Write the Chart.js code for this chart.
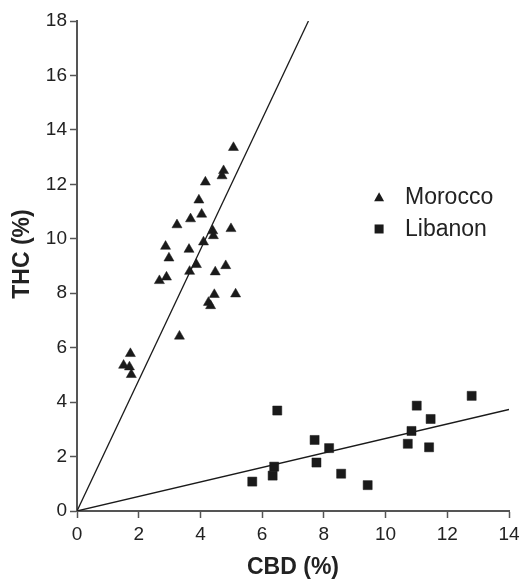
<!DOCTYPE html>
<html>
<head>
<meta charset="utf-8">
<title>THC vs CBD</title>
<script src="https://cdn.jsdelivr.net/npm/chart.js@4.4.1/dist/chart.umd.min.js"></script>
<style>
  html, body { margin: 0; padding: 0; background: #fff; }
  #wrap { width: 520px; height: 581px; }
</style>
</head>
<body>
<div id="wrap"><canvas id="chart" width="520" height="581"></canvas></div>
<script>
// --- data: CBD (%) on x, THC (%) on y ---
const moroccoCBD = [5.07, 4.75, 4.70, 4.16, 3.95, 4.04, 3.68, 3.24, 4.40, 4.42, 4.99, 4.10, 2.87, 3.63, 2.98,
                    3.87, 3.65, 4.82, 4.48, 2.90, 2.67, 4.45, 5.14, 4.26, 4.33, 3.32, 1.73, 1.51, 1.70, 1.76];
const moroccoTHC = [13.35, 12.50, 12.31, 12.08, 11.42, 10.90, 10.73, 10.51, 10.29, 10.11, 10.37, 9.88, 9.72, 9.61, 9.29,
                    9.05, 8.80, 9.01, 8.78, 8.59, 8.46, 7.95, 7.97, 7.66, 7.54, 6.42, 5.78, 5.35, 5.29, 5.01];
const libanonCBD = [6.49, 5.68, 6.34, 6.39, 7.70, 7.76, 8.17, 8.56, 9.42, 10.72, 10.84, 11.01, 11.46, 11.41, 12.79];
const libanonTHC = [3.69, 1.08, 1.30, 1.63, 2.61, 1.78, 2.31, 1.37, 0.95, 2.47, 2.94, 3.87, 3.38, 2.34, 4.23];

// regression lines through the origin
const moroccoFitX = [0, 7.5];
const moroccoFitY = [0, 18];
const libanonFitX = [0, 14];
const libanonFitY = [0, 3.73];

const seriesNames = ["Morocco", "Libanon"];
const xTitle = "CBD (%)";
const yTitle = "THC (%)";
const xTicks = [0, 2, 4, 6, 8, 10, 12, 14];
const yTicks = [0, 2, 4, 6, 8, 10, 12, 14, 16, 18];

const toPoints = (xs, ys) => xs.map((x, i) => ({ x: x, y: ys[i] }));

const INK = "#1a1a1a";
const TEXT = "#222";
const AXIS = "#555";
const FONT = "'Liberation Sans', Arial, Helvetica, sans-serif";

// legend inside the plot area plus the rotated y title
const annotations = {
    id: "annotations",
    afterDatasetsDraw(chart) {
        const { ctx, scales } = chart;
        const mx = scales.x.getPixelForValue(9.79);
        const tx = scales.x.getPixelForValue(10.63);
        const rows = [scales.y.getPixelForValue(11.53), scales.y.getPixelForValue(10.36)];
        ctx.save();
        ctx.fillStyle = INK;
        // triangle marker
        ctx.beginPath();
        ctx.moveTo(mx, rows[0] - 5);
        ctx.lineTo(mx + 5, rows[0] + 4);
        ctx.lineTo(mx - 5, rows[0] + 4);
        ctx.closePath();
        ctx.fill();
        // square marker
        ctx.fillRect(mx - 4.5, rows[1] - 4.5, 9, 9);

        ctx.fillStyle = TEXT;
        ctx.font = "23px " + FONT;
        ctx.textBaseline = "middle";
        ctx.textAlign = "left";
        ctx.fillText(seriesNames[0], tx, rows[0] + 1);
        ctx.fillText(seriesNames[1], tx, rows[1] + 1);

        // y axis title
        ctx.translate(22, 254);
        ctx.rotate(-Math.PI / 2);
        ctx.textAlign = "center";
        ctx.font = "bold 23px " + FONT;
        ctx.fillText(yTitle, 0, 1);
        ctx.restore();
    }
};

new Chart(document.getElementById("chart"), {
    type: "scatter",
    data: {
        datasets: [
            {
                label: seriesNames[0],
                data: toPoints(moroccoCBD, moroccoTHC),
                pointStyle: "triangle",
                pointRadius: 5.8,
                backgroundColor: INK,
                borderColor: INK,
                borderWidth: 0.5
            },
            {
                label: seriesNames[1],
                data: toPoints(libanonCBD, libanonTHC),
                pointStyle: "rect",
                pointRadius: 6.4,
                backgroundColor: INK,
                borderColor: INK,
                borderWidth: 0.5
            },
            {
                type: "line",
                label: "fit-m",
                data: toPoints(moroccoFitX, moroccoFitY),
                borderColor: INK,
                borderWidth: 1.3,
                pointRadius: 0,
                fill: false
            },
            {
                type: "line",
                label: "fit-l",
                data: toPoints(libanonFitX, libanonFitY),
                borderColor: INK,
                borderWidth: 1.3,
                pointRadius: 0,
                fill: false
            }
        ]
    },
    options: {
        responsive: false,
        animation: false,
        layout: { padding: { top: 21, right: 11, left: 0, bottom: 0 } },
        plugins: {
            legend: { display: false },
            tooltip: { enabled: false }
        },
        scales: {
            x: {
                type: "linear",
                min: 0,
                max: 14,
                afterBuildTicks: s => { s.ticks = xTicks.map(v => ({ value: v })); },
                // fixed box: no extra room reserved for the end labels
                afterFit: s => { s.height = 70; s.paddingLeft = 0; s.paddingRight = 0; },
                border: { color: AXIS, width: 2 },
                grid: { drawOnChartArea: false, color: AXIS, tickLength: 7, tickWidth: 1.5 },
                ticks: { color: TEXT, font: { family: FONT, size: 19 }, padding: 5 },
                title: {
                    display: true,
                    text: xTitle,
                    color: TEXT,
                    font: { family: FONT, size: 23, weight: "bold" },
                    padding: { top: 6, bottom: 0 }
                }
            },
            y: {
                type: "linear",
                min: 0,
                max: 18,
                afterBuildTicks: s => { s.ticks = yTicks.map(v => ({ value: v })); },
                afterFit: s => { s.width = 77; },
                border: { color: AXIS, width: 2 },
                grid: { drawOnChartArea: false, color: AXIS, tickLength: 7, tickWidth: 1.5 },
                ticks: { color: TEXT, font: { family: FONT, size: 19 }, padding: 3 }
            }
        }
    },
    plugins: [annotations]
});
</script>
</body>
</html>
